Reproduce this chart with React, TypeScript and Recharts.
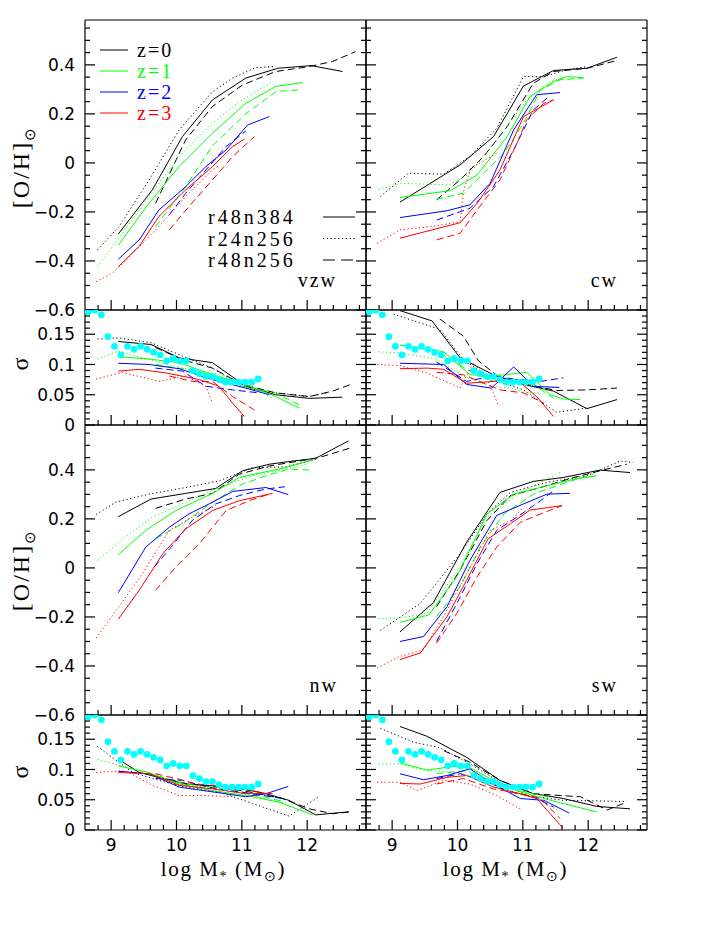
import React from 'react';
import { ComposedChart, Line, Scatter, XAxis, YAxis } from 'recharts';

type Pt = [number, number];
interface Series { z: number; run: string; pts: Pt[] }

// redshift colours and run line styles
const redshifts = [0, 1, 2, 3];
const zColors = ['#000000', '#00ff00', '#0000ff', '#ff0000'];
const runs = ['r48n384', 'r24n256', 'r48n256'];
const runDash: Record<string, string | undefined> = { r48n384: undefined, r24n256: '1.2 2.6', r48n256: '7 4' };

// axis ticks
const xTicks = [8.8, 9, 9.2, 9.4, 9.6, 9.8, 10, 10.2, 10.4, 10.6, 10.8, 11, 11.2, 11.4, 11.6, 11.8, 12, 12.2, 12.4, 12.6, 12.8];
const xMajor = [9, 10, 11, 12];
const ohTicks = [-0.6, -0.55, -0.5, -0.45, -0.4, -0.35, -0.3, -0.25, -0.2, -0.15, -0.1, -0.05, 0, 0.05, 0.1, 0.15, 0.2, 0.25, 0.3, 0.35, 0.4, 0.45, 0.5, 0.55];
const ohMajor = [-0.6, -0.4, -0.2, 0, 0.2, 0.4];
const sigTicks = [0, 0.01, 0.02, 0.03, 0.04, 0.05, 0.06, 0.07, 0.08, 0.09, 0.1, 0.11, 0.12, 0.13, 0.14, 0.15, 0.16, 0.17, 0.18];
const sigMajor = [0, 0.05, 0.1, 0.15];

// observed scatter (cyan dots), same in every sigma panel
const obsSigma: Pt[] = [
  [8.65, 0.187], [8.75, 0.19], [8.85, 0.182], [8.95, 0.146], [9.05, 0.13], [9.15, 0.116], [9.25, 0.13],
  [9.35, 0.125], [9.45, 0.13], [9.55, 0.125], [9.65, 0.12], [9.75, 0.116], [9.85, 0.106], [9.95, 0.11],
  [10.05, 0.106], [10.15, 0.106], [10.25, 0.09], [10.35, 0.085], [10.45, 0.08], [10.55, 0.08], [10.65, 0.075],
  [10.75, 0.071], [10.85, 0.071], [10.95, 0.071], [11.05, 0.071], [11.15, 0.071], [11.25, 0.076],
];

const vzwOH: Series[] = [
  { z: 0, run: 'r48n384', pts: [[9.11, -0.29], [9.63, -0.11], [10.09, 0.107], [10.55, 0.257], [11.06, 0.346], [11.55, 0.386], [12.06, 0.397], [12.54, 0.373]] },
  { z: 0, run: 'r24n256', pts: [[8.79, -0.355], [9.12, -0.26], [9.58, -0.07], [10.04, 0.135], [10.55, 0.29], [10.86, 0.346], [11.21, 0.389], [11.52, 0.393]] },
  { z: 0, run: 'r48n256', pts: [[9.68, -0.165], [10.14, 0.094], [10.55, 0.23], [11.01, 0.318], [11.52, 0.373], [12.03, 0.393], [12.39, 0.414], [12.74, 0.454]] },
  { z: 1, run: 'r48n384', pts: [[9.11, -0.335], [9.58, -0.165], [10.04, -0.015], [10.55, 0.121], [11.06, 0.243], [11.52, 0.312], [11.93, 0.328]] },
  { z: 1, run: 'r24n256', pts: [[8.79, -0.423], [9.12, -0.307], [9.58, -0.137], [10.04, 0.026], [10.55, 0.162], [10.96, 0.25], [11.47, 0.332]] },
  { z: 1, run: 'r48n256', pts: [[9.68, -0.26], [10.14, -0.097], [10.55, 0.07], [11.06, 0.2], [11.52, 0.291], [11.88, 0.298]] },
  { z: 2, run: 'r48n384', pts: [[9.11, -0.393], [9.43, -0.314], [9.73, -0.192], [10.14, -0.097], [10.45, -0.015], [10.76, 0.053], [11.09, 0.155], [11.42, 0.189]] },
  { z: 2, run: 'r48n256', pts: [[9.89, -0.212], [10.14, -0.124], [10.45, -0.029], [10.76, 0.067], [11.06, 0.13]] },
  { z: 3, run: 'r48n384', pts: [[9.11, -0.423], [9.43, -0.34], [9.73, -0.219], [10.14, -0.11], [10.55, -0.015], [10.86, 0.067], [11.04, 0.097]] },
  { z: 3, run: 'r24n256', pts: [[8.77, -0.484], [9.02, -0.45], [9.33, -0.369], [9.73, -0.26], [10.14, -0.137], [10.55, -0.029], [10.65, -0.01]] },
  { z: 3, run: 'r48n256', pts: [[9.89, -0.273], [10.19, -0.178], [10.55, -0.069], [10.86, 0.026], [11.19, 0.107]] },
];

const cwOH: Series[] = [
  { z: 0, run: 'r48n384', pts: [[9.12, -0.16], [10.04, -0.008], [10.55, 0.107], [11.01, 0.314], [11.47, 0.377], [11.98, 0.386], [12.44, 0.431]] },
  { z: 0, run: 'r24n256', pts: [[8.82, -0.137], [9.25, -0.042], [9.79, -0.046], [10.19, 0.026], [10.6, 0.141], [11.01, 0.352], [11.32, 0.352], [11.67, 0.38], [11.98, 0.393]] },
  { z: 0, run: 'r48n256', pts: [[9.68, -0.151], [10.04, -0.069], [10.4, 0.026], [10.76, 0.148], [11.16, 0.325], [11.47, 0.373], [11.98, 0.386], [12.44, 0.418]] },
  { z: 1, run: 'r48n384', pts: [[9.12, -0.141], [9.89, -0.113], [10.3, -0.049], [10.76, 0.107], [11.11, 0.271], [11.47, 0.332], [11.67, 0.352], [11.93, 0.348]] },
  { z: 1, run: 'r24n256', pts: [[8.79, -0.11], [9.12, -0.083], [9.89, -0.09], [10.19, -0.042], [10.6, 0.094], [11.06, 0.257], [11.42, 0.332], [11.67, 0.35]] },
  { z: 1, run: 'r48n256', pts: [[9.68, -0.148], [10.09, -0.124], [10.4, -0.042], [10.71, 0.039], [11.01, 0.162], [11.27, 0.298], [11.57, 0.339], [11.93, 0.346]] },
  { z: 2, run: 'r48n384', pts: [[9.12, -0.223], [9.84, -0.195], [10.19, -0.171], [10.5, -0.083], [10.86, 0.135], [11.21, 0.278], [11.57, 0.287]] },
  { z: 2, run: 'r48n256', pts: [[9.68, -0.233], [10.19, -0.185], [10.55, -0.097], [10.86, 0.053], [11.16, 0.216], [11.37, 0.264]] },
  { z: 3, run: 'r48n384', pts: [[9.12, -0.307], [10.04, -0.244], [10.3, -0.165], [10.65, -0.029], [11.01, 0.189], [11.47, 0.257]] },
  { z: 3, run: 'r24n256', pts: [[8.77, -0.328], [9.12, -0.273], [9.6, -0.26], [10.04, -0.24], [10.09, -0.12], [10.2, -0.02], [10.35, 0.0], [10.6, 0.04]] },
  { z: 3, run: 'r48n256', pts: [[9.68, -0.314], [10.04, -0.287], [10.3, -0.192], [10.65, -0.069], [10.91, 0.08], [11.06, 0.176], [11.32, 0.243], [11.47, 0.257]] },
];

const nwOH: Series[] = [
  { z: 0, run: 'r48n384', pts: [[9.11, 0.209], [9.61, 0.281], [10.14, 0.304], [10.6, 0.324], [11.01, 0.396], [11.42, 0.423], [11.72, 0.434], [12.13, 0.447], [12.63, 0.518]] },
  { z: 0, run: 'r24n256', pts: [[8.77, 0.218], [9.07, 0.268], [9.58, 0.301], [10.14, 0.328], [10.65, 0.355], [11.16, 0.409], [11.67, 0.412], [12.13, 0.443]] },
  { z: 0, run: 'r48n256', pts: [[9.68, 0.243], [10.14, 0.281], [10.55, 0.304], [10.96, 0.382], [11.42, 0.416], [11.88, 0.436], [12.18, 0.45], [12.67, 0.49]] },
  { z: 1, run: 'r48n384', pts: [[9.11, 0.054], [9.53, 0.153], [9.99, 0.234], [10.55, 0.304], [10.96, 0.369], [11.31, 0.389], [11.67, 0.409], [12.1, 0.443]] },
  { z: 1, run: 'r24n256', pts: [[8.79, 0.031], [9.22, 0.126], [9.63, 0.207], [10.14, 0.268], [10.65, 0.328], [11.16, 0.376], [11.67, 0.403], [11.98, 0.423]] },
  { z: 1, run: 'r48n256', pts: [[9.68, 0.119], [10.09, 0.18], [10.55, 0.268], [11.01, 0.342], [11.37, 0.376], [11.72, 0.403], [12.06, 0.399]] },
  { z: 2, run: 'r48n384', pts: [[9.11, -0.101], [9.53, 0.085], [9.89, 0.166], [10.19, 0.22], [10.55, 0.268], [10.86, 0.312], [11.37, 0.328], [11.71, 0.299]] },
  { z: 2, run: 'r48n256', pts: [[9.66, 0.004], [9.94, 0.092], [10.24, 0.193], [10.6, 0.261], [10.96, 0.295], [11.37, 0.322], [11.66, 0.331]] },
  { z: 3, run: 'r48n384', pts: [[9.11, -0.209], [9.43, -0.091], [9.79, 0.058], [10.14, 0.159], [10.55, 0.234], [10.96, 0.274], [11.47, 0.304]] },
  { z: 3, run: 'r24n256', pts: [[8.77, -0.286], [9.12, -0.158], [9.48, -0.023], [9.89, 0.153], [10.24, 0.207], [10.6, 0.254]] },
  { z: 3, run: 'r48n256', pts: [[9.68, -0.091], [9.99, 0.004], [10.35, 0.099], [10.76, 0.234], [11.11, 0.274], [11.42, 0.301]] },
];

const swOH: Series[] = [
  { z: 0, run: 'r48n384', pts: [[9.12, -0.261], [9.63, -0.142], [10.14, 0.105], [10.65, 0.308], [11.16, 0.353], [11.62, 0.369], [12.18, 0.399], [12.64, 0.389]] },
  { z: 0, run: 'r24n256', pts: [[8.82, -0.255], [9.43, -0.145], [10.04, 0.058], [10.45, 0.22], [10.81, 0.308], [11.37, 0.349], [11.98, 0.376], [12.49, 0.436], [12.69, 0.43]] },
  { z: 0, run: 'r48n256', pts: [[9.68, -0.158], [10.04, -0.009], [10.45, 0.193], [10.81, 0.295], [11.27, 0.328], [11.78, 0.369], [12.18, 0.396], [12.59, 0.423]] },
  { z: 1, run: 'r48n384', pts: [[9.12, -0.222], [9.56, -0.192], [9.99, -0.036], [10.45, 0.22], [10.86, 0.301], [11.37, 0.335], [11.78, 0.362], [12.13, 0.376]] },
  { z: 1, run: 'r24n256', pts: [[8.79, -0.207], [9.12, -0.205], [9.53, -0.185], [10.04, 0.004], [10.45, 0.207], [10.96, 0.308], [11.57, 0.389]] },
  { z: 1, run: 'r48n256', pts: [[9.68, -0.199], [10.04, -0.077], [10.35, 0.085], [10.71, 0.22], [11.16, 0.301], [11.67, 0.349], [12.08, 0.383]] },
  { z: 2, run: 'r48n384', pts: [[9.12, -0.3], [9.48, -0.28], [9.84, -0.158], [10.19, 0.031], [10.6, 0.214], [11.01, 0.261], [11.37, 0.301], [11.72, 0.304]] },
  { z: 2, run: 'r48n256', pts: [[9.68, -0.3], [9.99, -0.145], [10.3, 0.018], [10.6, 0.153], [10.91, 0.207], [11.27, 0.274], [11.47, 0.315]] },
  { z: 3, run: 'r48n384', pts: [[9.12, -0.374], [9.43, -0.347], [9.84, -0.199], [10.14, -0.05], [10.47, 0.119], [10.81, 0.18], [11.11, 0.236], [11.6, 0.254]] },
  { z: 3, run: 'r24n256', pts: [[8.77, -0.408], [9.12, -0.361], [9.48, -0.334], [9.84, -0.172], [10.14, -0.023], [10.5, 0.153], [10.81, 0.193], [11.01, 0.247]] },
  { z: 3, run: 'r48n256', pts: [[9.68, -0.307], [9.99, -0.185], [10.3, -0.036], [10.6, 0.085], [10.96, 0.186], [11.27, 0.22], [11.6, 0.254]] },
];

const vzwSig: Series[] = [
  { z: 0, run: 'r48n384', pts: [[9.11, 0.138], [9.61, 0.133], [10.04, 0.111], [10.55, 0.103], [11.06, 0.064], [11.52, 0.05], [12.03, 0.044], [12.54, 0.046]] },
  { z: 0, run: 'r24n256', pts: [[8.79, 0.142], [9.11, 0.144], [9.61, 0.136], [10.09, 0.114], [10.55, 0.094], [11.06, 0.061], [11.52, 0.053], [12.03, 0.047], [12.29, 0.053]] },
  { z: 0, run: 'r48n256', pts: [[9.68, 0.128], [10.09, 0.108], [10.55, 0.094], [11.01, 0.067], [11.52, 0.053], [12.03, 0.047], [12.39, 0.056], [12.69, 0.068]] },
  { z: 1, run: 'r48n384', pts: [[9.11, 0.113], [9.58, 0.109], [10.04, 0.103], [10.55, 0.083], [11.06, 0.067], [11.52, 0.047], [11.88, 0.028]] },
  { z: 1, run: 'r24n256', pts: [[8.79, 0.109], [9.11, 0.122], [9.58, 0.108], [10.09, 0.094], [10.55, 0.086], [11.06, 0.069], [11.47, 0.044]] },
  { z: 1, run: 'r48n256', pts: [[9.68, 0.1], [10.14, 0.092], [10.55, 0.083], [11.01, 0.064], [11.52, 0.053], [11.88, 0.033]] },
  { z: 2, run: 'r48n384', pts: [[9.11, 0.102], [9.58, 0.1], [10.04, 0.093], [10.55, 0.075], [11.06, 0.061], [11.42, 0.05]] },
  { z: 2, run: 'r48n256', pts: [[9.68, 0.094], [10.09, 0.089], [10.45, 0.064], [10.86, 0.058], [11.27, 0.053]] },
  { z: 3, run: 'r48n384', pts: [[9.11, 0.089], [9.43, 0.092], [9.84, 0.086], [10.35, 0.075], [10.65, 0.064], [10.86, 0.036], [11.04, 0.014]] },
  { z: 3, run: 'r24n256', pts: [[8.77, 0.076], [9.17, 0.087], [9.73, 0.072], [10.14, 0.081], [10.45, 0.064], [10.55, 0.036]] },
  { z: 3, run: 'r48n256', pts: [[9.89, 0.081], [10.24, 0.072], [10.55, 0.072], [10.86, 0.047], [11.19, 0.025]] },
];

const cwSig: Series[] = [
  { z: 0, run: 'r48n384', pts: [[9.12, 0.189], [9.61, 0.172], [10.04, 0.111], [10.55, 0.083], [11.01, 0.067], [11.47, 0.056], [11.98, 0.027], [12.44, 0.042]] },
  { z: 0, run: 'r24n256', pts: [[9.02, 0.183], [9.73, 0.158], [10.09, 0.108], [10.55, 0.075], [11.01, 0.058], [11.52, 0.021], [11.98, 0.028]] },
  { z: 0, run: 'r48n256', pts: [[9.73, 0.175], [10.09, 0.147], [10.32, 0.106], [10.65, 0.078], [11.06, 0.067], [11.52, 0.057], [11.98, 0.058], [12.44, 0.061]] },
  { z: 1, run: 'r48n384', pts: [[9.12, 0.132], [9.79, 0.121], [10.19, 0.083], [10.55, 0.081], [11.06, 0.087], [11.42, 0.05], [11.62, 0.043], [11.88, 0.042]] },
  { z: 1, run: 'r24n256', pts: [[8.79, 0.121], [9.12, 0.119], [9.68, 0.109], [10.09, 0.081], [10.5, 0.064], [10.81, 0.061], [11.06, 0.053], [11.27, 0.053]] },
  { z: 1, run: 'r48n256', pts: [[9.73, 0.119], [10.14, 0.092], [10.55, 0.072], [11.06, 0.075], [11.47, 0.044]] },
  { z: 2, run: 'r48n384', pts: [[9.12, 0.102], [9.79, 0.1], [10.14, 0.067], [10.52, 0.061], [10.86, 0.096], [11.16, 0.064], [11.56, 0.062]] },
  { z: 2, run: 'r48n256', pts: [[9.68, 0.104], [10.14, 0.072], [10.55, 0.081], [10.91, 0.075], [11.27, 0.072], [11.62, 0.078]] },
  { z: 3, run: 'r48n384', pts: [[9.12, 0.093], [9.53, 0.094], [9.79, 0.092], [10.14, 0.069], [10.55, 0.072], [10.91, 0.075], [11.21, 0.047], [11.47, 0.014]] },
  { z: 3, run: 'r24n256', pts: [[8.77, 0.1], [9.12, 0.098], [9.53, 0.086], [10.04, 0.061], [10.24, 0.103], [10.45, 0.078], [10.63, 0.031]] },
  { z: 3, run: 'r48n256', pts: [[9.68, 0.087], [10.09, 0.083], [10.65, 0.058], [11.01, 0.053], [11.32, 0.036]] },
];

const nwSig: Series[] = [
  { z: 0, run: 'r48n384', pts: [[9.11, 0.117], [9.43, 0.095], [10.14, 0.076], [10.86, 0.071], [11.37, 0.06], [11.72, 0.049], [12.13, 0.025], [12.64, 0.03]] },
  { z: 0, run: 'r24n256', pts: [[8.79, 0.138], [9.33, 0.095], [9.73, 0.082], [10.14, 0.071], [10.65, 0.063], [11.16, 0.044], [11.72, 0.023], [12.18, 0.055]] },
  { z: 0, run: 'r48n256', pts: [[9.73, 0.087], [10.14, 0.077], [10.6, 0.071], [11.11, 0.063], [11.62, 0.052], [12.03, 0.035], [12.39, 0.027], [12.67, 0.03]] },
  { z: 1, run: 'r48n384', pts: [[9.11, 0.106], [9.58, 0.095], [10.04, 0.076], [10.55, 0.065], [11.06, 0.057], [11.57, 0.046], [12.08, 0.025]] },
  { z: 1, run: 'r24n256', pts: [[8.79, 0.117], [9.22, 0.104], [9.68, 0.087], [10.14, 0.074], [10.65, 0.068], [11.16, 0.057], [11.67, 0.044]] },
  { z: 1, run: 'r48n256', pts: [[9.68, 0.09], [10.14, 0.076], [10.6, 0.07], [11.11, 0.061], [11.67, 0.046]] },
  { z: 2, run: 'r48n384', pts: [[9.11, 0.097], [9.58, 0.093], [10.04, 0.071], [10.55, 0.063], [11.06, 0.055], [11.37, 0.06], [11.71, 0.072]] },
  { z: 2, run: 'r48n256', pts: [[9.68, 0.085], [10.09, 0.082], [10.6, 0.068], [11.16, 0.06], [11.62, 0.052]] },
  { z: 3, run: 'r48n384', pts: [[9.11, 0.095], [9.58, 0.093], [10.04, 0.074], [10.55, 0.068], [11.06, 0.06], [11.47, 0.06]] },
  { z: 3, run: 'r24n256', pts: [[8.77, 0.095], [9.22, 0.098], [9.63, 0.074], [10.04, 0.057], [10.45, 0.057], [10.86, 0.055]] },
  { z: 3, run: 'r48n256', pts: [[9.68, 0.093], [10.07, 0.083], [10.24, 0.077], [10.76, 0.071], [11.27, 0.063], [11.37, 0.06]] },
];

const swSig: Series[] = [
  { z: 0, run: 'r48n384', pts: [[9.12, 0.171], [9.53, 0.155], [10.14, 0.12], [10.65, 0.082], [11.16, 0.06], [11.62, 0.052], [12.13, 0.039], [12.64, 0.035]] },
  { z: 0, run: 'r24n256', pts: [[8.82, 0.168], [9.33, 0.145], [9.73, 0.136], [10.19, 0.109], [10.7, 0.076], [11.06, 0.057], [11.62, 0.049], [12.18, 0.048], [12.59, 0.047]] },
  { z: 0, run: 'r48n256', pts: [[9.79, 0.131], [10.19, 0.112], [10.65, 0.082], [11.16, 0.06], [11.57, 0.057], [11.88, 0.055], [12.29, 0.033], [12.59, 0.046]] },
  { z: 1, run: 'r48n384', pts: [[9.12, 0.111], [9.53, 0.099], [9.94, 0.105], [10.19, 0.103], [10.55, 0.082], [10.96, 0.063], [11.42, 0.049], [12.13, 0.03]] },
  { z: 1, run: 'r24n256', pts: [[8.79, 0.109], [9.12, 0.109], [9.53, 0.098], [10.04, 0.095], [10.45, 0.076], [10.81, 0.063], [11.21, 0.052], [11.57, 0.03]] },
  { z: 1, run: 'r48n256', pts: [[9.68, 0.093], [10.14, 0.098], [10.55, 0.076], [10.96, 0.065], [11.37, 0.055]] },
  { z: 2, run: 'r48n384', pts: [[9.12, 0.093], [9.48, 0.083], [9.84, 0.09], [10.19, 0.101], [10.55, 0.076], [10.96, 0.052], [11.32, 0.049], [11.71, 0.028]] },
  { z: 2, run: 'r48n256', pts: [[9.68, 0.085], [10.04, 0.093], [10.4, 0.082], [10.81, 0.063], [11.16, 0.055], [11.47, 0.038]] },
  { z: 3, run: 'r48n384', pts: [[9.12, 0.077], [9.43, 0.076], [9.84, 0.087], [10.14, 0.09], [10.55, 0.071], [10.96, 0.06], [11.21, 0.052], [11.6, 0.005]] },
  { z: 3, run: 'r24n256', pts: [[8.77, 0.079], [9.12, 0.079], [9.38, 0.065], [9.79, 0.082], [10.19, 0.076], [10.6, 0.057], [10.96, 0.035]] },
  { z: 3, run: 'r48n256', pts: [[9.68, 0.076], [10.09, 0.085], [10.55, 0.068], [10.96, 0.06], [11.27, 0.052], [11.57, 0.019]] },
];

const X_DOMAIN: [number, number] = [8.6, 12.9];
const OH_DOMAIN: [number, number] = [-0.6, 0.583];
const SIG_DOMAIN: [number, number] = [0, 0.19];

const NUM_FONT = '"DejaVu Sans", sans-serif';
const TXT_FONT = '"Liberation Serif", serif';

const fmt = (v: number) => (v < 0 ? '\u2212' + Math.abs(v) : String(v));

// space reserved around the plot box for the axes
const AX_L = 60;
const AX_R = 10;
const AX_T = 10;
const AX_B = 30;

interface PanelProps {
  left: number;
  top: number;
  width: number;
  height: number;
  series: Series[];
  yDomain: [number, number];
  yTicks: number[];
  yMajor: number[];
  yLabels: boolean;
  xLabels: boolean;
  obs?: Pt[];
}

function Panel({ left, top, width, height, series, yDomain, yTicks, yMajor, yLabels, xLabels, obs }: PanelProps) {
  const tl = (major: boolean) => (major ? 10 : 5);
  const bottomTick = (p: any) => {
    const v = p.payload.value;
    const major = xMajor.includes(v);
    return (
      <g>
        <line x1={p.x} x2={p.x} y1={p.y} y2={p.y - tl(major)} stroke="#000" strokeWidth={1.2} />
        {xLabels && major && (
          <text x={p.x} y={p.y + 21} textAnchor="middle" fontFamily={NUM_FONT} fontSize={17} fill="#000">{v}</text>
        )}
      </g>
    );
  };
  const topTick = (p: any) => {
    const major = xMajor.includes(p.payload.value);
    return <line x1={p.x} x2={p.x} y1={p.y} y2={p.y + tl(major)} stroke="#000" strokeWidth={1.2} />;
  };
  const leftTick = (p: any) => {
    const v = p.payload.value;
    const major = yMajor.includes(v);
    return (
      <g>
        <line x1={p.x} x2={p.x + tl(major)} y1={p.y} y2={p.y} stroke="#000" strokeWidth={1.2} />
        {yLabels && major && (
          <text x={p.x - 10} y={p.y} dy="0.36em" textAnchor="end" fontFamily={NUM_FONT} fontSize={17} fill="#000">{fmt(v)}</text>
        )}
      </g>
    );
  };
  const rightTick = (p: any) => {
    const major = yMajor.includes(p.payload.value);
    return <line x1={p.x} x2={p.x - tl(major)} y1={p.y} y2={p.y} stroke="#000" strokeWidth={1.2} />;
  };

  return (
    <div style={{ position: 'absolute', left: left - AX_L, top: top - AX_T }}>
      <ComposedChart width={width + AX_L + AX_R} height={height + AX_T + AX_B} margin={{ top: 0, right: 0, bottom: 0, left: 0 }}>
        <XAxis xAxisId="b" type="number" dataKey="x" domain={X_DOMAIN} ticks={xTicks} interval={0} height={AX_B}
          tickSize={0} tickMargin={0} tickLine={false} allowDataOverflow axisLine={{ stroke: '#000', strokeWidth: 1.2 }} tick={bottomTick} />
        <XAxis xAxisId="t" type="number" orientation="top" domain={X_DOMAIN} ticks={xTicks} interval={0} height={AX_T}
          tickSize={0} tickMargin={0} tickLine={false} allowDataOverflow axisLine={{ stroke: '#000', strokeWidth: 1.2 }} tick={topTick} />
        <YAxis yAxisId="l" type="number" domain={yDomain} ticks={yTicks} interval={0} width={AX_L}
          tickSize={0} tickMargin={0} tickLine={false} allowDataOverflow axisLine={{ stroke: '#000', strokeWidth: 1.2 }} tick={leftTick} />
        <YAxis yAxisId="r" type="number" orientation="right" domain={yDomain} ticks={yTicks} interval={0} width={AX_R}
          tickSize={0} tickMargin={0} tickLine={false} allowDataOverflow axisLine={{ stroke: '#000', strokeWidth: 1.2 }} tick={rightTick} />
        {series.map((s, i) => (
          <Line
            key={i}
            xAxisId="b"
            yAxisId="l"
            data={s.pts.map(([x, y]) => ({ x, y }))}
            dataKey="y"
            type="linear"
            stroke={zColors[redshifts.indexOf(s.z)]}
            strokeWidth={1}
            strokeDasharray={runDash[s.run]}
            dot={false}
            activeDot={false}
            isAnimationActive={false}
          />
        ))}
        {obs && (
          <Scatter
            xAxisId="b"
            yAxisId="l"
            data={obs.map(([x, y]) => ({ x, y }))}
            dataKey="y"
            isAnimationActive={false}
            shape={(p: any) => <circle cx={p.cx} cy={p.cy} r={3.4} fill="#00ffff" />}
          />
        )}
      </ComposedChart>
    </div>
  );
}

const COL_L = 85;
const COL_R = 366;
const COL_W = 281;
const MAIN_H = 290;
const SIG_H = 115;
const ROW1 = 20;
const ROW2 = 425;

function Overlay() {
  const legendZ = [0, 1, 2, 3];
  return (
    <svg width={706} height={940} style={{ position: 'absolute', left: 0, top: 0, pointerEvents: 'none' }}>
      {/* redshift legend */}
      {legendZ.map((z, i) => (
        <g key={z}>
          <line x1={100} x2={128} y1={50 + i * 21} y2={50 + i * 21} stroke={zColors[i]} strokeWidth={1} />
          <text x={137} y={57 + i * 21} fontFamily={TXT_FONT} fontSize={20} letterSpacing={2} fill={zColors[i]}>{`z=${z}`}</text>
        </g>
      ))}
      {/* run legend */}
      {runs.map((r, i) => (
        <g key={r}>
          <text x={208} y={224 + i * 21.5} fontFamily={TXT_FONT} fontSize={20} letterSpacing={3} fill="#000">{r}</text>
          <line x1={323} x2={355} y1={217 + i * 21.5} y2={217 + i * 21.5} stroke="#000" strokeWidth={1} strokeDasharray={r === 'r48n256' ? '12 6' : runDash[r]} />
        </g>
      ))}
      {/* panel names */}
      <text x={337} y={287} textAnchor="end" fontFamily={TXT_FONT} fontSize={20} letterSpacing={2} fill="#000">vzw</text>
      <text x={618} y={287} textAnchor="end" fontFamily={TXT_FONT} fontSize={20} letterSpacing={2} fill="#000">cw</text>
      <text x={338} y={692} textAnchor="end" fontFamily={TXT_FONT} fontSize={20} letterSpacing={2} fill="#000">nw</text>
      <text x={618} y={692} textAnchor="end" fontFamily={TXT_FONT} fontSize={20} letterSpacing={2} fill="#000">sw</text>
      {/* y titles */}
      {[167, 570].map((cy) => (
        <text key={cy} transform={`translate(29,${cy}) rotate(-90)`} textAnchor="middle" fontFamily={TXT_FONT} fontSize={24} letterSpacing={2} fill="#000">
          [O/H]<tspan fontSize={15} dy={6}>⊙</tspan>
        </text>
      ))}
      {[364, 772].map((cy) => (
        <text key={cy} transform={`translate(28,${cy}) rotate(-90)`} textAnchor="middle" fontFamily={TXT_FONT} fontSize={24} fill="#000">σ</text>
      ))}
      {/* x titles */}
      {[COL_L + COL_W / 2 - 2, COL_R + COL_W / 2 - 1].map((cx) => (
        <text key={cx} x={cx} y={876} textAnchor="middle" fontFamily={TXT_FONT} fontSize={21} letterSpacing={1.6} fill="#000">
          log M<tspan fontSize={14} dy={5}>*</tspan>
          <tspan dy={-5}> (M</tspan>
          <tspan fontSize={14} dy={5}>⊙</tspan>
          <tspan dy={-5}>)</tspan>
        </text>
      ))}
    </svg>
  );
}

export default function App() {
  return (
    <div style={{ position: 'absolute', left: 0, top: 0, width: 706, height: 940, background: '#fff' }}>
      <style>{`.recharts-surface{overflow:visible}.recharts-wrapper{overflow:visible}`}</style>
      <Panel left={COL_L} top={ROW1} width={COL_W} height={MAIN_H} series={vzwOH} yDomain={OH_DOMAIN} yTicks={ohTicks} yMajor={ohMajor} yLabels xLabels={false} />
      <Panel left={COL_R} top={ROW1} width={COL_W} height={MAIN_H} series={cwOH} yDomain={OH_DOMAIN} yTicks={ohTicks} yMajor={ohMajor} yLabels={false} xLabels={false} />
      <Panel left={COL_L} top={ROW1 + MAIN_H} width={COL_W} height={SIG_H} series={vzwSig} yDomain={SIG_DOMAIN} yTicks={sigTicks} yMajor={sigMajor} yLabels xLabels={false} obs={obsSigma} />
      <Panel left={COL_R} top={ROW1 + MAIN_H} width={COL_W} height={SIG_H} series={cwSig} yDomain={SIG_DOMAIN} yTicks={sigTicks} yMajor={sigMajor} yLabels={false} xLabels={false} obs={obsSigma} />
      <Panel left={COL_L} top={ROW2} width={COL_W} height={MAIN_H} series={nwOH} yDomain={OH_DOMAIN} yTicks={ohTicks} yMajor={ohMajor} yLabels xLabels={false} />
      <Panel left={COL_R} top={ROW2} width={COL_W} height={MAIN_H} series={swOH} yDomain={OH_DOMAIN} yTicks={ohTicks} yMajor={ohMajor} yLabels={false} xLabels={false} />
      <Panel left={COL_L} top={ROW2 + MAIN_H} width={COL_W} height={SIG_H} series={nwSig} yDomain={SIG_DOMAIN} yTicks={sigTicks} yMajor={sigMajor} yLabels xLabels obs={obsSigma} />
      <Panel left={COL_R} top={ROW2 + MAIN_H} width={COL_W} height={SIG_H} series={swSig} yDomain={SIG_DOMAIN} yTicks={sigTicks} yMajor={sigMajor} yLabels={false} xLabels obs={obsSigma} />
      <Overlay />
    </div>
  );
}
